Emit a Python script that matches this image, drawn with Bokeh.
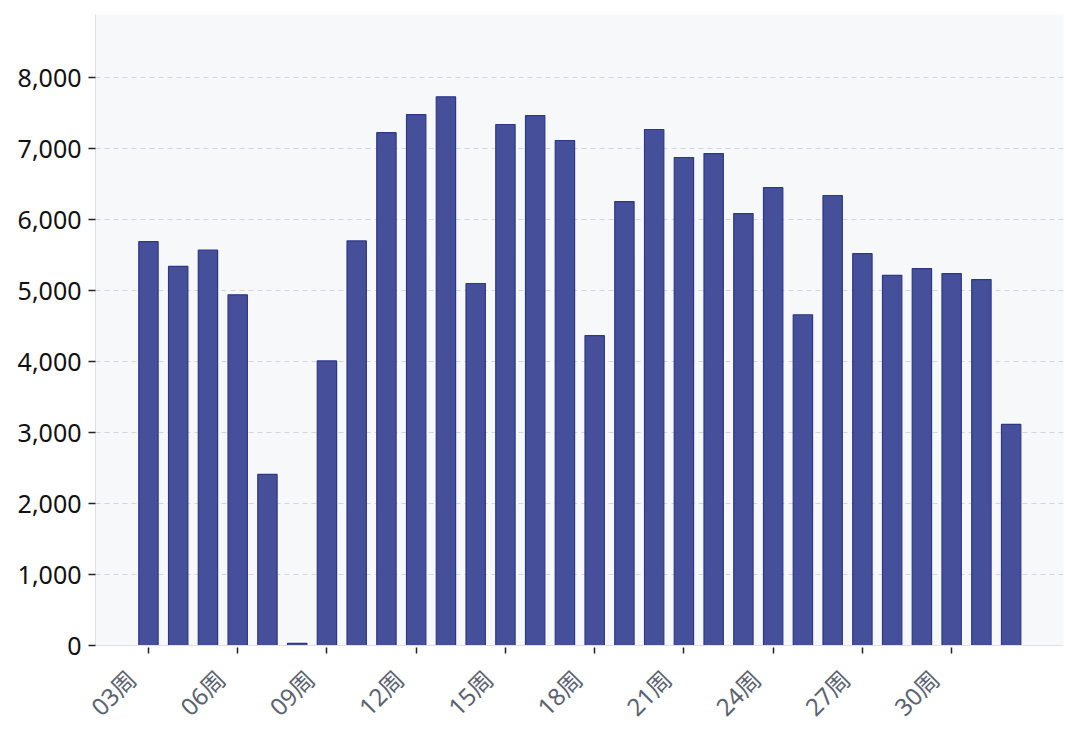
import math
from bokeh.plotting import figure
from bokeh.models import ColumnDataSource, FixedTicker, NumeralTickFormatter, Range1d
from bokeh.embed import file_html
from bokeh.resources import INLINE

weeks = list(range(3, 33))
values = [5690, 5340, 5570, 4940, 2410, 30, 4010, 5700, 7225, 7480, 7730, 5100,
          7340, 7465, 7115, 4365, 6255, 7270, 6875, 6930, 6085, 6450, 4660, 6340,
          5520, 5215, 5310, 5240, 5155, 3115]
tick_weeks = [3, 6, 9, 12, 15, 18, 21, 24, 27, 30]
tick_labels = {w: f"{w:02d}周\u2002\u2002" for w in tick_weeks}

src = ColumnDataSource(dict(x=weeks, top=values))

p = figure(frame_width=968, frame_height=631, output_backend="svg", toolbar_location=None,
           x_range=Range1d(1.22, 33.76), y_range=Range1d(0, 8890),
           min_border_left=95, min_border_right=9, min_border_top=14, min_border_bottom=10)

p.vbar(x="x", top="top", bottom=0, width=0.65, source=src,
       fill_color="#3c4795", fill_alpha=0.95, line_color="#2c3788", line_width=1.2)

p.background_fill_color = "#f7f8fa"
p.border_fill_color = "white"
p.outline_line_color = None

p.xgrid.grid_line_color = None
p.ygrid.grid_line_color = "#d2d6dc"
p.ygrid.grid_line_dash = "5 4"
p.ygrid.grid_line_width = 1

font = "Noto Sans, Noto Sans CJK SC"

p.xaxis.ticker = FixedTicker(ticks=tick_weeks)
p.xaxis.major_label_overrides = tick_labels
p.xaxis.major_label_orientation = math.pi / 4
p.xaxis.major_label_text_font = font
p.xaxis.major_label_text_font_size = "24px"
p.xaxis.major_label_text_color = "#5b6270"
p.xaxis.axis_line_color = "#dde0e4"
p.xaxis.major_tick_line_color = "#222222"
p.xaxis.major_tick_in = -2
p.xaxis.major_tick_out = 8
p.xaxis.major_tick_line_width = 1.5
p.xaxis.minor_tick_line_color = None
p.xaxis.major_label_standoff = 4

p.yaxis.ticker = FixedTicker(ticks=[0, 1000, 2000, 3000, 4000, 5000, 6000, 7000, 8000])
p.yaxis.formatter = NumeralTickFormatter(format="0,0")
p.yaxis.major_label_text_font = font
p.yaxis.major_label_text_font_size = "25px"
p.yaxis.major_label_text_color = "#111111"
p.yaxis.axis_line_color = "#dde0e4"
p.yaxis.major_tick_line_color = "#222222"
p.yaxis.major_tick_in = 0
p.yaxis.major_tick_out = 7
p.yaxis.major_tick_line_width = 1.5
p.yaxis.minor_tick_line_color = None
p.yaxis.major_label_standoff = 7

open("out.html", "w").write(file_html(p, INLINE))
